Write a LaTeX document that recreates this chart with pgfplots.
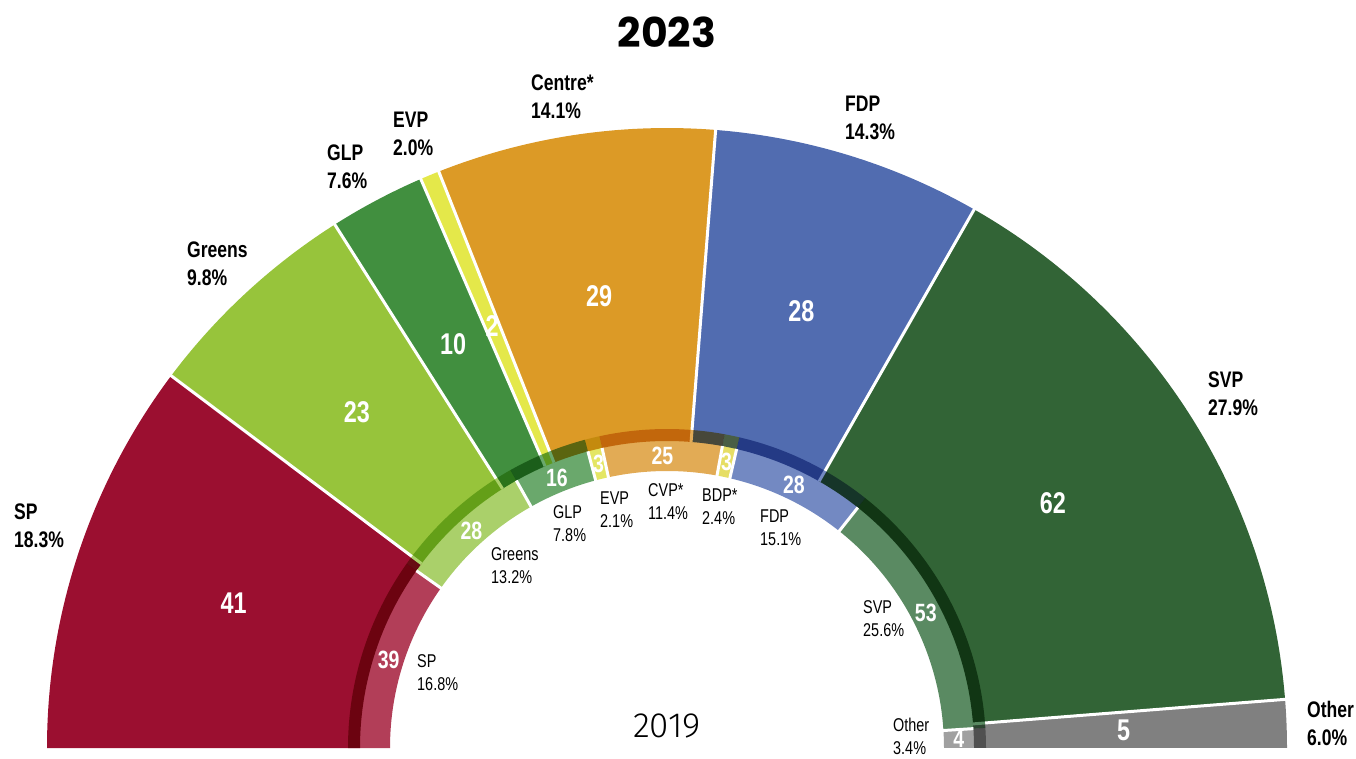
\documentclass[border=0pt]{standalone}
\usepackage{pgfplots}
\pgfplotsset{compat=1.18}
\usepackage{pgfplotstable}
\usepackage{fontspec}
\setmainfont{Liberation Sans}
\newfontfamily\cond[FakeStretch=0.78]{Liberation Sans}
\newfontfamily\titlefont{Poppins}
\newfontfamily\lightfont{Fira Sans Light}

\definecolor{spo}{RGB}{155,15,48}
\definecolor{spi}{RGB}{178,62,88}
\definecolor{gro}{RGB}{151,196,59}
\definecolor{gri}{RGB}{170,208,106}
\definecolor{glo}{RGB}{65,143,63}
\definecolor{gli}{RGB}{106,168,108}
\definecolor{evo}{RGB}{228,232,74}
\definecolor{evi}{RGB}{228,230,100}
\definecolor{ceo}{RGB}{220,154,38}
\definecolor{cvi}{RGB}{226,171,85}
\definecolor{bdi}{RGB}{230,222,100}
\definecolor{fdo}{RGB}{81,108,176}
\definecolor{fdi}{RGB}{115,137,194}
\definecolor{svo}{RGB}{50,100,54}
\definecolor{svi}{RGB}{90,138,98}
\definecolor{oto}{RGB}{128,128,128}
\definecolor{oti}{RGB}{160,160,160}

% 2023 (outer ring): seats, vote share, colour, label position (image px)
\pgfplotstableread{
name seats pct col lx ly
SP 41 18.3 spo 14 526
Greens 23 9.8 gro 187 264
GLP 10 7.6 glo 327 167
EVP 2 2.0 evo 393 134
Centre* 29 14.1 ceo 531 97
FDP 28 14.3 fdo 845 118
SVP 62 27.9 svo 1208 394
Other 5 6.0 oto 1307 723
}\outertbl

% 2019 (inner ring)
\pgfplotstableread{
name seats pct col lx ly
SP 39 16.8 spi 417 673
Greens 28 13.2 gri 491 566
GLP 16 7.8 gli 553 524
EVP 3 2.1 evi 600 510
CVP* 25 11.4 cvi 648 502
BDP* 3 2.4 bdi 702 507
FDP 28 15.1 fdi 760 528
SVP 53 25.6 svi 863 619
Other 4 3.4 oti 893 736
}\innertbl

\tikzset{
 outnum/.style={text=white, inner sep=0pt, font=\cond\bfseries\fontsize{30}{30}\selectfont},
 innum/.style={text=white, inner sep=0pt, font=\cond\bfseries\fontsize{25}{25}\selectfont},
 outlab/.style={anchor=west, align=left, inner sep=0pt, font=\cond\bfseries\fontsize{22.5}{28}\selectfont},
 inlab/.style={anchor=west, align=left, inner sep=0pt, font=\cond\fontsize{18.5}{23}\selectfont},
}

% total seats of a ring
\newcommand\ringtotal[2]{%
 \pgfplotstablegetrowsof{#1}\pgfmathtruncatemacro\nrows{\pgfplotsretval-1}%
 \def#2{0}%
 \pgfplotsforeachungrouped \j in {0,...,\nrows}{%
  \pgfplotstablegetelem{\j}{seats}\of#1\pgfmathsetmacro#2{#2+\pgfplotsretval}}}

% #1 table, #2 r inner, #3 r outer, #4 extra style, #5 total
\newcommand\drawring[5]{%
 \def\cum{0}%
 \pgfmathsetmacro\deg{180/#5}%
 \pgfplotstablegetrowsof{#1}\pgfmathtruncatemacro\nrows{\pgfplotsretval-1}%
 \pgfplotsforeachungrouped \i in {0,...,\nrows}{%
  \pgfplotstablegetelem{\i}{seats}\of#1\let\s\pgfplotsretval
  \pgfplotstablegetelem{\i}{col}\of#1\let\c\pgfplotsretval
  \pgfmathsetmacro\aa{180-\deg*\cum}%
  \pgfmathsetmacro\cum{\cum+\s}%
  \pgfmathsetmacro\ab{180-\deg*\cum}%
  \edef\doit{\noexpand\fill[\c,#4] ([shift={(\aa:#3pt)}]C) arc[start angle=\aa, end angle=\ab, radius=#3pt] -- ([shift={(\ab:#2pt)}]C) arc[start angle=\ab, end angle=\aa, radius=#2pt] -- cycle;}%
  \doit}}

% separators: #1 table, #2 r1, #3 r2, #4 total
\newcommand\seplines[4]{%
 \def\cum{0}%
 \pgfmathsetmacro\deg{180/#4}%
 \pgfplotstablegetrowsof{#1}\pgfmathtruncatemacro\nrows{\pgfplotsretval-2}%
 \pgfplotsforeachungrouped \i in {0,...,\nrows}{%
  \pgfplotstablegetelem{\i}{seats}\of#1\let\s\pgfplotsretval
  \pgfmathsetmacro\cum{\cum+\s}%
  \pgfmathsetmacro\ab{180-\deg*\cum}%
  \edef\doit{\noexpand\draw[white, line width=3pt] ([shift={(\ab:#2pt)}]C) -- ([shift={(\ab:#3pt)}]C);}%
  \doit}}

% numbers and labels: #1 table, #2 radius of numbers, #3 number style, #4 label style, #5 total
\newcommand\ringtext[5]{%
 \def\cum{0}%
 \pgfmathsetmacro\deg{180/#5}%
 \pgfplotstablegetrowsof{#1}\pgfmathtruncatemacro\nrows{\pgfplotsretval-1}%
 \pgfplotsforeachungrouped \i in {0,...,\nrows}{%
  \pgfplotstablegetelem{\i}{seats}\of#1\let\s\pgfplotsretval
  \pgfplotstablegetelem{\i}{name}\of#1\let\n\pgfplotsretval
  \pgfplotstablegetelem{\i}{pct}\of#1\let\p\pgfplotsretval
  \pgfplotstablegetelem{\i}{lx}\of#1\let\lx\pgfplotsretval
  \pgfplotstablegetelem{\i}{ly}\of#1\let\ly\pgfplotsretval
  \pgfmathsetmacro\lyy{758-\ly}%
  \pgfmathsetmacro\aa{180-\deg*\cum}%
  \pgfmathsetmacro\cum{\cum+\s}%
  \pgfmathsetmacro\ab{180-\deg*\cum}%
  \pgfmathsetmacro\am{(\aa+\ab)/2}%
  \edef\doit{\noexpand\node[#3] at ([shift={(\am:#2pt)}]C) {\s};
   \noexpand\node[#4] at (axis cs:\lx,\lyy) {\n\noexpand\\\p\noexpand\%};}%
  \doit}}

\begin{document}
\begin{tikzpicture}
\begin{axis}[name=ax, x=1pt, y=1pt, xmin=0, xmax=1356, ymin=0, ymax=758,
  scale only axis, hide axis, clip=false]
\coordinate (C) at (axis cs:667,10);
\ringtotal{\outertbl}{\totout}
\ringtotal{\innertbl}{\totin}
\drawring{\outertbl}{307}{620}{}{\totout}
\seplines{\outertbl}{307}{623}{\totout}
\drawring{\innertbl}{277}{319}{blend mode=multiply}{\totin}
\seplines{\innertbl}{275}{307}{\totin}
\ringtext{\outertbl}{457}{outnum}{outlab}{\totout}
\ringtext{\innertbl}{292}{innum}{inlab}{\totin}
\node[font=\titlefont\bfseries\fontsize{41}{41}\selectfont, inner sep=0pt] at (axis cs:667,726) {2023};
\node[font=\lightfont\fontsize{35}{35}\selectfont, inner sep=0pt] at (axis cs:667,32) {2019};
\end{axis}
\pgfresetboundingbox
\useasboundingbox (ax.south west) rectangle (ax.north east);
\end{tikzpicture}
\end{document}
